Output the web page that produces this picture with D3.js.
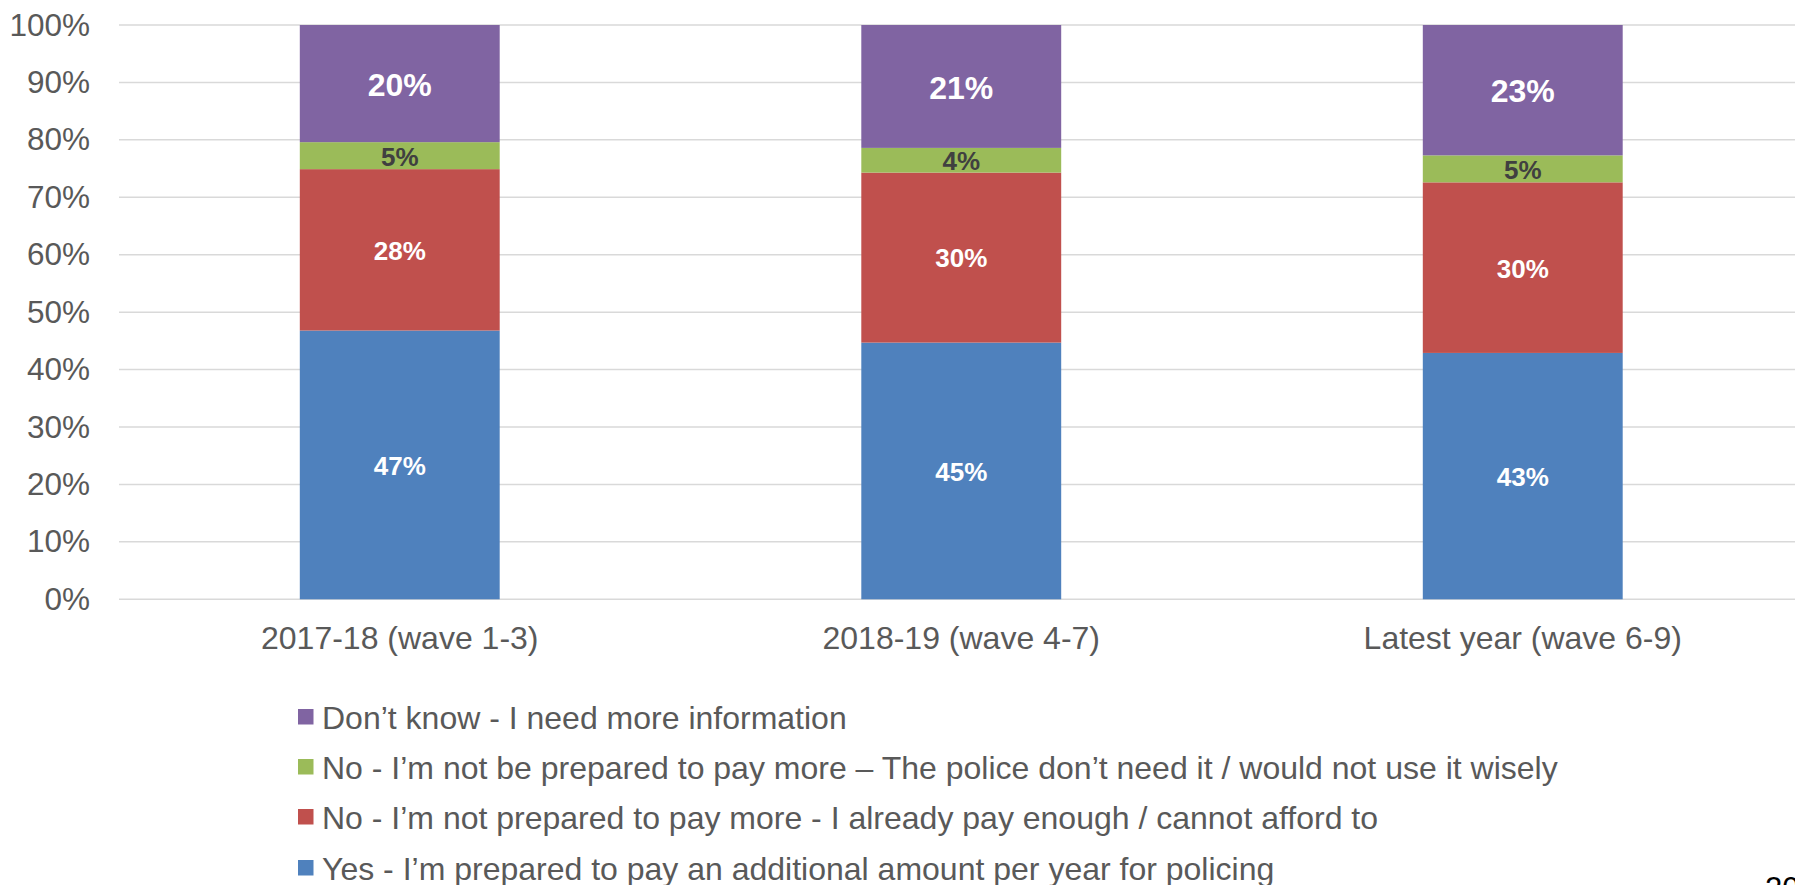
<!DOCTYPE html>
<html>
<head>
<meta charset="utf-8">
<script src="https://cdn.jsdelivr.net/npm/d3@7"></script>
<style>
  body { margin: 0; background: #fff; overflow: hidden; }
  text { font-family: "Liberation Sans", Arial, sans-serif; }
</style>
</head>
<body>
<script>
// categories and series, values in percent
var categories = ["2017-18 (wave 1-3)", "2018-19 (wave 4-7)", "Latest year (wave 6-9)"];
var seriesNames = [
  "Yes - I\u2019m prepared to pay an additional amount per year for policing",
  "No - I\u2019m not prepared to pay more - I already pay enough / cannot afford to",
  "No - I\u2019m not be prepared to pay more \u2013 The police don\u2019t need it / would not use it wisely",
  "Don\u2019t know - I need more information"
];
var yesVals = [46.8, 44.7, 42.9];
var noAffordVals = [28.1, 29.6, 29.7];
var noWiselyVals = [4.7, 4.3, 4.7];
var dontKnowVals = [20.4, 21.4, 22.7];
var yTicks = [0, 10, 20, 30, 40, 50, 60, 70, 80, 90, 100];

var colors = ["#4f81bd", "#c0504d", "#9bbb59", "#8064a2"];
var labelColors = ["#fff", "#fff", "#404040", "#fff"];
var labelSizes = [26, 26, 26, 32];

var W = 1795, H = 885;
// note: "top" is reserved on window, so use plot* names
var plotLeft = 119, plotTop = 25, plotBottom = 599.3;

// rows for d3.stack
var keys = ["yes", "noAfford", "noWisely", "dontKnow"];
var rows = categories.map(function(c, i) {
  return { cat: c, yes: yesVals[i], noAfford: noAffordVals[i], noWisely: noWiselyVals[i], dontKnow: dontKnowVals[i] };
});
var stacked = d3.stack().keys(keys)(rows);

var svg = d3.select("body").append("svg")
    .attr("width", W)
    .attr("height", H);

var x = d3.scaleBand()
    .domain(categories)
    .range([plotLeft, plotLeft + 3 * 561.5])
    .paddingInner(0.644)
    .paddingOuter(0.322);

var y = d3.scaleLinear()
    .domain([0, 100])
    .range([plotBottom, plotTop]);

// gridlines
svg.append("g")
    .selectAll("line")
    .data(yTicks)
  .enter().append("line")
    .attr("x1", plotLeft)
    .attr("x2", W)
    .attr("y1", function(d) { return y(d); })
    .attr("y2", function(d) { return y(d); })
    .attr("stroke", "#d9d9d9")
    .attr("stroke-width", 1.5);

// y axis labels
var yAxis = svg.append("g")
    .attr("transform", "translate(" + plotLeft + ",0)")
    .call(d3.axisLeft(y).tickValues(yTicks).tickSize(0).tickPadding(29)
      .tickFormat(function(d) { return d + "%"; }));
yAxis.select(".domain").remove();
yAxis.selectAll("text")
    .attr("font-size", 31.5)
    .attr("font-family", "Liberation Sans, Arial, sans-serif")
    .attr("fill", "#595959");

// bars
var layer = svg.selectAll(".layer")
    .data(stacked)
  .enter().append("g")
    .attr("class", "layer")
    .attr("fill", function(d, i) { return colors[i]; });

layer.selectAll("rect")
    .data(function(d) { return d; })
  .enter().append("rect")
    .attr("x", function(d) { return x(d.data.cat); })
    .attr("width", x.bandwidth())
    .attr("y", function(d) { return y(d[1]); })
    .attr("height", function(d) { return y(d[0]) - y(d[1]); });

// data labels
stacked.forEach(function(s, i) {
  svg.append("g").selectAll("text")
      .data(s)
    .enter().append("text")
      .attr("x", function(d) { return x(d.data.cat) + x.bandwidth() / 2; })
      .attr("y", function(d) { return (y(d[0]) + y(d[1])) / 2; })
      .attr("dy", "0.38em")
      .attr("text-anchor", "middle")
      .attr("font-weight", "bold")
      .attr("font-size", labelSizes[i])
      .attr("fill", labelColors[i])
      .text(function(d) { return Math.round(d[1] - d[0]) + "%"; });
});

// x axis labels
var xAxis = svg.append("g")
    .attr("transform", "translate(0," + plotBottom + ")")
    .call(d3.axisBottom(x).tickSize(0).tickPadding(27));
xAxis.select(".domain").remove();
xAxis.selectAll("text")
    .attr("font-size", 32)
    .attr("font-family", "Liberation Sans, Arial, sans-serif")
    .attr("fill", "#595959");

// legend, reversed order
var legendY = [717, 767, 817, 868];
var legend = svg.append("g").selectAll("g")
    .data(seriesNames.slice().reverse())
  .enter().append("g")
    .attr("transform", function(d, i) { return "translate(298," + legendY[i] + ")"; });

legend.append("rect")
    .attr("x", 0)
    .attr("y", -8)
    .attr("width", 15.5)
    .attr("height", 15.5)
    .attr("fill", function(d, i) { return colors[3 - i]; });

legend.append("text")
    .attr("x", 24)
    .attr("dy", "0.36em")
    .attr("font-size", 32)
    .attr("fill", "#595959")
    .text(function(d) { return d; });

// page number, cut off at the edge
svg.append("text")
    .attr("x", 1765)
    .attr("y", 899)
    .attr("font-size", 31)
    .attr("fill", "#000")
    .text("20");
</script>
</body>
</html>
